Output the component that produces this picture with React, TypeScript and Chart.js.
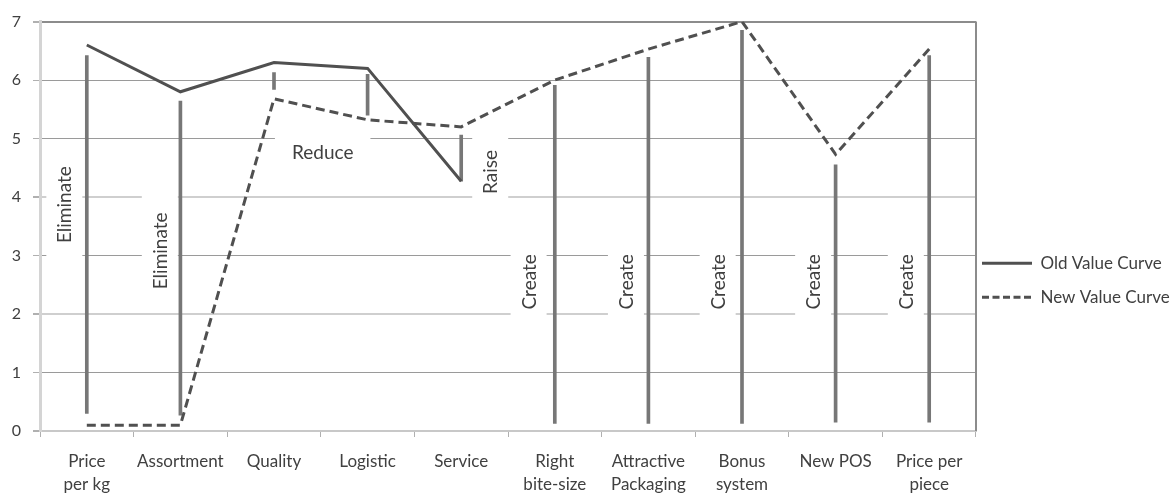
import React, { useEffect, useRef } from 'react';
import { Chart, registerables } from 'chart.js';

Chart.register(...registerables);

// ---- data ----
const categories: (string | string[])[] = [
  ['Price', 'per kg'],
  'Assortment',
  'Quality',
  'Logistic',
  'Service',
  ['Right', 'bite-size'],
  ['Attractive', 'Packaging'],
  ['Bonus', 'system'],
  'New POS',
  ['Price per', 'piece'],
];
const oldValueCurve: (number | null)[] = [6.6, 5.8, 6.3, 6.2, 4.27, null, null, null, null, null];
const newValueCurve: number[] = [0.1, 0.1, 5.68, 5.32, 5.2, 6.0, 6.53, 7.0, 4.73, 6.53];
const dropLow: number[] = [0.3, 0.27, 5.84, 5.4, 4.27, 0.13, 0.13, 0.13, 0.15, 0.15];
const dropHigh: number[] = [6.42, 5.64, 6.13, 6.1, 5.06, 5.91, 6.39, 6.85, 4.55, 6.42];
const yTicks: number[] = [0, 1, 2, 3, 4, 5, 6, 7];

// ---- annotation texts (anchored in data coordinates: category index, value) ----
const noteTexts: string[] = ['Eliminate', 'Eliminate', 'Reduce', 'Raise', 'Create', 'Create', 'Create', 'Create', 'Create'];
const noteCategory: number[] = [-0.24, 0.78, 2.52, 4.31, 4.72, 5.76, 6.74, 7.76, 8.75];
const noteValue: number[] = [3.87, 3.08, 4.77, 4.43, 2.55, 2.55, 2.55, 2.55, 2.55];
const noteVertical: boolean[] = [true, true, false, true, true, true, true, true, true];

const TEXT = '#404040';
const LINE = '#505050';
const NEW_DASH = [9, 5];

const notesPlugin = {
  id: 'notes',
  beforeDatasetsDraw(chart: any) {
    const { ctx, scales } = chart;
    const x = scales.x;
    const y = scales.y;
    const p0 = x.getPixelForValue(0);
    const step = x.getPixelForValue(1) - p0;
    ctx.save();
    ctx.font = '19px Lato';
    ctx.textAlign = 'center';
    ctx.textBaseline = 'middle';
    noteTexts.forEach((t, i) => {
      const cx = p0 + noteCategory[i] * step;
      const cy = y.getPixelForValue(noteValue[i]);
      const w = ctx.measureText(t).width;
      ctx.fillStyle = '#ffffff';
      if (noteVertical[i]) {
        ctx.fillRect(cx - 18, cy - w / 2 - 18, 36, w + 36);
      } else {
        ctx.fillRect(cx - w / 2 - 17, cy - 20, w + 34, 40);
      }
      ctx.save();
      ctx.translate(cx, cy);
      if (noteVertical[i]) ctx.rotate(-Math.PI / 2);
      ctx.fillStyle = TEXT;
      ctx.fillText(t, 0, 1);
      ctx.restore();
    });
    // right frame edge
    const { chartArea } = chart;
    ctx.strokeStyle = '#8c8c8c';
    ctx.lineWidth = 2;
    ctx.beginPath();
    ctx.moveTo(chartArea.right, chartArea.top);
    ctx.lineTo(chartArea.right, chartArea.bottom);
    ctx.stroke();
    ctx.restore();
  },
};

export default function App() {
  const ref = useRef<HTMLCanvasElement | null>(null);

  useEffect(() => {
    document.body.style.margin = '0';
    if (!ref.current) return;
    const chart = new Chart(ref.current, {
      type: 'bar',
      data: {
        labels: categories,
        datasets: [
          {
            type: 'line',
            label: 'Old Value Curve',
            data: oldValueCurve,
            borderColor: LINE,
            backgroundColor: LINE,
            borderWidth: 3,
            pointRadius: 0,
            tension: 0,
            spanGaps: false,
          } as any,
          {
            type: 'line',
            label: 'New Value Curve',
            data: newValueCurve,
            borderColor: LINE,
            backgroundColor: LINE,
            borderWidth: 3,
            borderDash: NEW_DASH,
            pointRadius: 0,
            tension: 0,
          } as any,
          {
            type: 'bar',
            label: 'drop',
            data: dropLow.map((lo, i) => [lo, dropHigh[i]]),
            backgroundColor: '#777777',
            borderWidth: 0,
            barThickness: 3,
          } as any,
        ],
      },
      options: {
        animation: false,
        responsive: false,
        devicePixelRatio: 1,
        layout: { padding: { top: 19, left: 0, right: 0, bottom: 0 } },
        plugins: {
          tooltip: { enabled: false },
          legend: {
            position: 'right',
            maxWidth: 198,
            title: { display: true, text: '', padding: { top: 44, bottom: 0 } },
            labels: {
              usePointStyle: true,
              pointStyle: 'line',
              pointStyleWidth: 50,
              padding: 6,
              color: TEXT,
              font: { family: 'Lato', size: 17, lineHeight: 28 / 17 },
              generateLabels: (c: any) =>
                (Chart.defaults.plugins.legend.labels.generateLabels as any)(c)
                  .filter((it: any) => it.datasetIndex < 2)
                  .map((it: any) => {
                    const ds = c.data.datasets[it.datasetIndex];
                    return {
                      ...it,
                      text: [it.text],
                      pointStyle: 'line',
                      lineWidth: 3,
                      strokeStyle: ds.borderColor,
                      fillStyle: ds.borderColor,
                      lineDash: ds.borderDash ? [7, 3.5] : [],
                    };
                  }),
            },
          },
        },
        scales: {
          x: {
            type: 'category',
            offset: true,
            grid: {
              offset: true,
              drawOnChartArea: false,
              drawTicks: true,
              tickLength: 6,
              color: '#b0b0b0',
            },
            border: { color: '#c8c8c8', width: 2 },
            ticks: {
              autoSkip: false,
              maxRotation: 0,
              minRotation: 0,
              padding: 13,
              color: TEXT,
              font: { family: 'Lato', size: 17, lineHeight: 1.37 },
            },
            afterFit: (s: any) => {
              s.height = 63;
            },
          },
          y: {
            min: 0,
            max: 7,
            afterBuildTicks: (s: any) => {
              s.ticks = yTicks.map((v) => ({ value: v }));
            },
            grid: {
              color: (c: any) => {
                const v = c.tick && c.tick.value;
                if (v === 7) return '#8c8c8c';
                if (v === 0) return '#c8c8c8';
                if (v === 2 || v === 4) return '#cfcfcf';
                return '#9a9a9a';
              },
              lineWidth: (c: any) => {
                const v = c.tick && c.tick.value;
                if (v === 7 || v === 2 || v === 4 || v === 0) return 2;
                return 1;
              },
              tickLength: 7,
              tickColor: '#b0b0b0',
            },
            border: { color: '#d4d4d4', width: 3 },
            ticks: {
              padding: 12,
              color: TEXT,
              font: { family: 'Lato', size: 16 },
            },
            afterFit: (s: any) => {
              s.width = 40;
            },
          },
        },
      } as any,
      plugins: [notesPlugin],
    });
    return () => chart.destroy();
  }, []);

  return (
    <div style={{ width: 1174, height: 494 }}>
      <canvas ref={ref} width={1174} height={494} style={{ width: 1174, height: 494, display: 'block' }} />
    </div>
  );
}
